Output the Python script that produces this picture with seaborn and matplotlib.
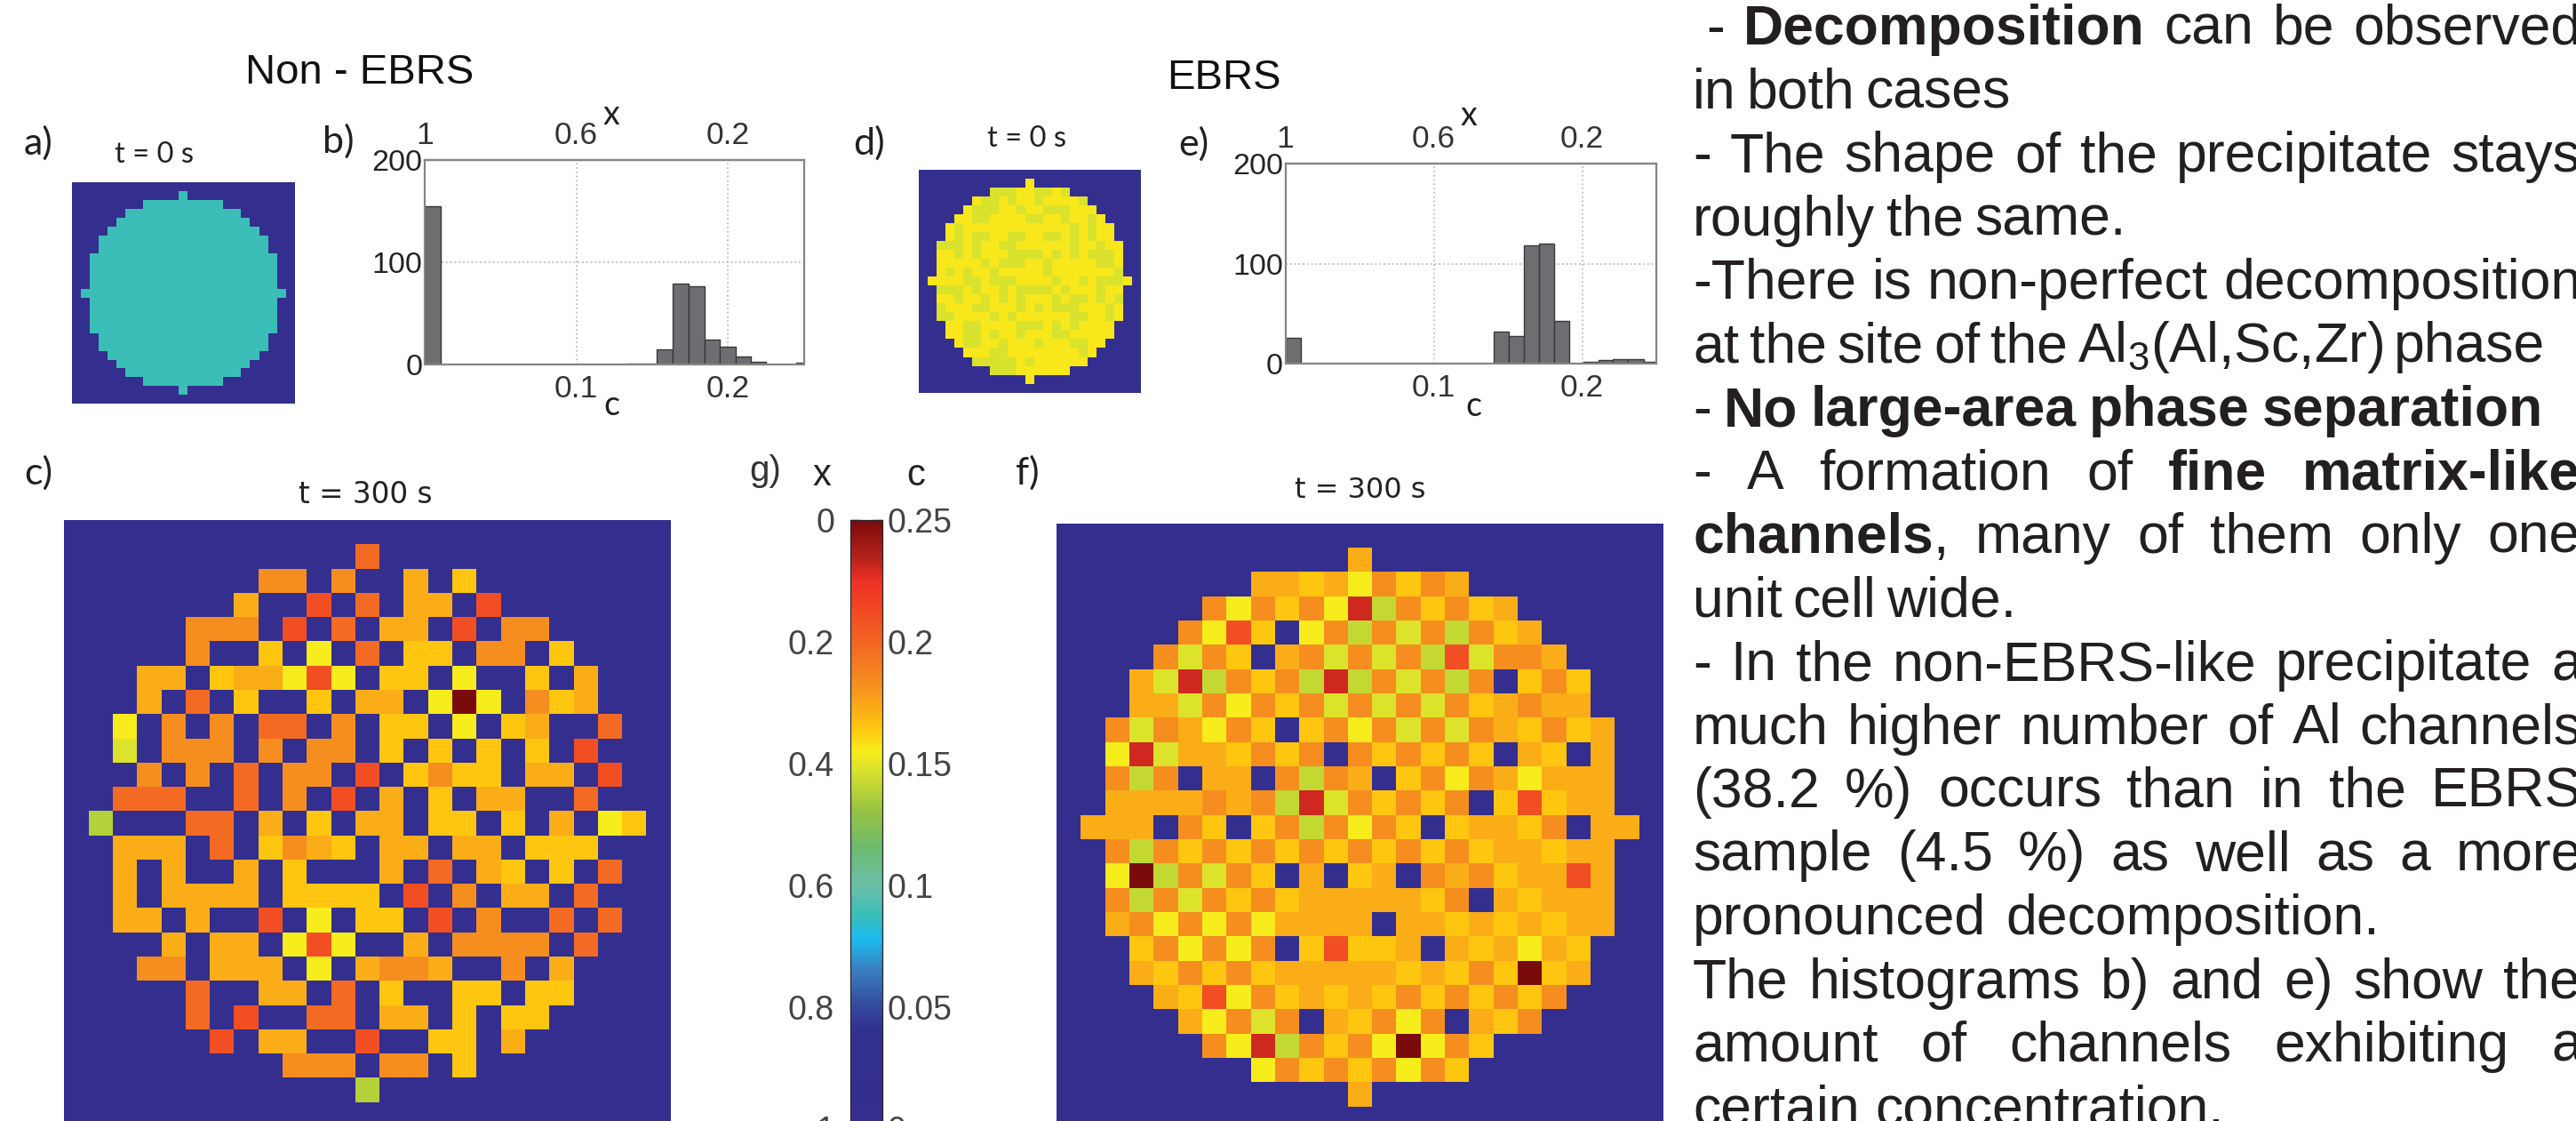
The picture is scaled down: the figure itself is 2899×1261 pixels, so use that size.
import numpy as np
import seaborn as sns
import matplotlib.pyplot as plt
from matplotlib.colors import LinearSegmentedColormap

W, H = 2899, 1261

# concentration codes
CODES = {'.': 0.0, 'L': 0.138, 'H': 0.142, 'Y': 0.148, 'y': 0.155, 'g': 0.165, 'o': 0.172,
         'O': 0.183, 'P': 0.198, 'R': 0.21, 'D': 0.23, 'd': 0.25}

# c) non-EBRS, t = 300 s
MAP_C = [
    "...........P...........",
    ".......OO.O..o.g.......",
    "......o..R.P.oo.R......",
    "....OOO.R.P.oo.R.OO....",
    "....O..g.y.P.gg.OO.g...",
    "..oo.gooyRy.gg.y..g.o..",
    "..o.P.g..g.oo.ydy.Ogo..",
    ".y.O.O.PP.O.gg.y.go..P.",
    ".Y.OOO.O.OO.g.g.g.g.R..",
    "..O.O.P.OO.R.gOgg.oo.R.",
    ".PPP..P.O.R.o.g.oo..P..",
    "L...PP.o.g.oo.gg.g.o.yg",
    ".ooo.P.gOog.oo.oo.ggg..",
    ".o.o..o.g...o.P.og.g.P.",
    ".o.oooo.gggg.R.O.oo.P..",
    ".oo.o..R.y.gg.R.O..P.P.",
    "...o.oo.yRy..o.OOOO.P..",
    "..OO.ooo.y.oOOo..O.o...",
    "....P..oo.P.g..gg.gg...",
    "....P.R..PP.oo.g.gg....",
    ".....R.oo..R..gg.o.....",
    "........OOO.OO.g.......",
    "...........L...........",
]

# f) EBRS, t = 300 s
MAP_F = [
    "...........o...........",
    ".......oogoyOgOo.......",
    ".....OyOgOyDHOgOgo.....",
    "....OyRg.yOHOYOHOgo....",
    "...OYOg.oOYOYOHRYOOo...",
    "..oYDHOgOHDHOYOHO.gOg..",
    "..ooYOyOgOYOYOYOgoOoo..",
    ".OYOoyOg.gOyOYOYOogOgo.",
    ".yDYoogOgO.OgOgOg.og.o.",
    ".OHO.oo.OHOo.gOyOoyooo.",
    ".ooooOoOHDYOgOgO.gRgoo.",
    "ooo.Og.gOHOyOg.googO.oo",
    ".OHOgOgOgOgOgOgOgoogoo.",
    ".ydHOYOg.o.go.OoOgooRo.",
    ".OHOYOgOgooooogO.ogooo.",
    ".oOyOyOyoooo.oogogogoo.",
    "..gOyOyO.gRggo.ogoyog..",
    "..ogOgOgooooogogOgdgo..",
    "...ogRyOgogogOgOgOgO...",
    "....oyOYO.ogOyO.ogO....",
    ".....OyDHOgOydyOg......",
    ".......yOgOgOyOg.......",
    "...........o...........",
]

# a) and d) precipitate outline at t = 0 s, first and last column per row
DISK_START = [11, 7, 5, 4, 3, 2, 2, 1, 1, 1, 1, 0, 1, 1, 1, 1, 2, 2, 3, 4, 5, 7, 11]
DISK_END = [11, 15, 17, 18, 19, 20, 20, 21, 21, 21, 21, 22, 21, 21, 21, 21, 20, 20, 19, 18, 17, 15, 11]
C_START_A = 0.088
C_START_D = 0.156
C_START_D_LOW = 0.147

# d) cells in the slightly greener yellow, per row
D_LOW_COLS = [
    [], [7, 8, 9, 12, 13, 15], [6, 7, 9, 12, 17], [5, 6, 7, 10, 13, 14, 15],
    [5, 6, 11, 12, 15, 18], [3, 16, 18], [3, 5, 6, 9, 10, 13, 14, 16, 18],
    [1, 2, 3, 5, 8, 9, 16, 19], [3, 5, 9, 10, 11, 12, 14, 16, 18, 19, 20],
    [6, 8, 9, 10, 13, 19, 20], [2, 4, 7, 13, 21],
    [4, 5, 7, 8, 9, 14, 17, 19, 20, 21],
    [1, 2, 3, 5, 8, 10, 11, 12, 13, 15, 19],
    [3, 6, 8, 10, 14, 16, 17, 19, 21], [1, 5, 6, 10, 12, 14, 15, 16, 20],
    [1, 2, 7, 9, 16, 17, 20], [4, 5, 10, 11, 12, 14, 16], [4, 5, 7, 10, 14, 15],
    [4, 5, 8, 12, 16, 17], [7, 8, 17], [5, 6, 7, 8, 9, 11], [7, 8, 9], [],
]

# histograms b) and e)
HIST_B_EDGES = [0, .0105, .1333, .1431, .1532, .1637, .1742, .1846, .1948, .2049, .2150, .2251, .2450, .25]
HIST_B_COUNTS = [155, 0, 1, 1, 15, 79.5, 77, 24.4, 17.7, 8, 2.6, 0, 1.5]
HIST_E_EDGES = [0, .0104, .1401, .1507, .1610, .1708, .1809, .1911, .2011, .2108, .2208, .2311, .2415, .25]
HIST_E_COUNTS = [25.7, 0, 32, 27.8, 118.6, 120, 43, 0, 2.4, 3.6, 4.4, 4.4, 2.4]
HIST_X_TOP = ['1', '0.6', '0.2']
HIST_X_BOTTOM = ['0.1', '0.2']
HIST_Y = [0, 100, 200]

# colour scale g)
CBAR_C = [0, 0.05, 0.1, 0.15, 0.2, 0.25]
CBAR_C_LABELS = ['0', '0.05', '0.1', '0.15', '0.2', '0.25']
CBAR_X = [0, 0.2, 0.4, 0.6, 0.8, 1]
CBAR_X_LABELS = ['0', '0.2', '0.4', '0.6', '0.8', '1']
STOPS_C = [0, .04, .05, .065, .078, .088, .10, .115, .13, .148, .155, .165, .172, .183, .198, .21, .225, .235, .25]
STOPS_COLOR = ['#342E8E', '#322F8F', '#34499F', '#3A7EC0', '#1CBBEE', '#3BBEB8', '#6BBFA8', '#6CBB70',
               '#95C245', '#DCE32B', '#F7EC1C', '#FFC60F', '#FBAE17', '#F68E1F', '#F36A22', '#F15023',
               '#EE3124', '#B4211B', '#7B0A0B']

# right hand text: words (** = bold), left and right end of the line in pixels
TEXT_LINES = [
    ("- **Decomposition** can be observed", 1920, 2906),
    ("in both cases", 1905, 2263),
    ("- The shape of the precipitate stays", 1905, 2904),
    ("roughly the same.", 1905, 2393),
    ("-There is non-perfect decomposition", 1905, 2906),
    ("at the site of the Al$_{3}$(Al,Sc,Zr) phase", 1905, 2864),
    ("- **No** **large-area** **phase** **separation**", 1905, 2862),
    ("- A formation of **fine** **matrix-like**", 1905, 2904),
    ("**channels**, many of them only one", 1905, 2904),
    ("unit cell wide.", 1905, 2269),
    ("- In the non-EBRS-like precipitate a", 1905, 2906),
    ("much higher number of Al channels", 1905, 2906),
    ("(38.2 %) occurs than in the EBRS", 1905, 2906),
    ("sample (4.5 %) as well as a more", 1905, 2906),
    ("pronounced decomposition.", 1905, 2678),
    ("The histograms b) and e) show the", 1905, 2904),
    ("amount of channels exhibiting a", 1905, 2906),
    ("certain concentration.", 1905, 2503),
]

HELV = 'Liberation Sans'
SOFT = 'Lato'


def make_axes(fig, x0, y0, x1, y1):
    return fig.add_axes([x0 / W, 1 - y1 / H, (x1 - x0) / W, (y1 - y0) / H])


def put(fig, x, y, s, size, family=HELV, ha='left', color='#231F20', **kw):
    return fig.text(x / W, 1 - y / H, s, fontsize=size, family=family, ha=ha, va='baseline', color=color, **kw)


def pad_grid(cells):
    grid = np.zeros((25, 25))
    grid[1:24, 1:24] = cells
    return grid


def decode(rows):
    return pad_grid(np.array([[CODES[ch] for ch in row] for row in rows]))


def start_a():
    cells = np.zeros((23, 23))
    for r in range(23):
        cells[r, DISK_START[r]:DISK_END[r] + 1] = C_START_A
    return pad_grid(cells)


def start_d():
    cells = np.zeros((23, 23))
    for r in range(23):
        cells[r, DISK_START[r]:DISK_END[r] + 1] = C_START_D
        for col in D_LOW_COLS[r]:
            cells[r, col] = C_START_D_LOW
    return pad_grid(cells)


def draw_map(fig, box, grid, cmap, **kw):
    ax = make_axes(fig, *box)
    sns.heatmap(grid, ax=ax, cmap=cmap, vmin=0, vmax=0.25, xticklabels=False, yticklabels=False,
                rasterized=True, **({'cbar': False} | kw))
    return ax


def draw_hist(fig, box, edges, counts):
    ax = make_axes(fig, *box)
    mids = [(a + b) / 2 for a, b in zip(edges[:-1], edges[1:])]
    sns.histplot(x=mids, weights=counts, bins=edges, ax=ax,
                 color='#6D6E71', edgecolor='#3A3A3A', linewidth=1, alpha=1)
    ax.set_xlim(0, 0.25)
    ax.set_ylim(0, 200)
    ax.set_xlabel('')
    ax.set_ylabel('')
    ax.set_xticks([0.1, 0.2], labels=HIST_X_BOTTOM)
    ax.set_yticks(HIST_Y, labels=[str(v) for v in HIST_Y])
    ax.grid(True, color='#BDBDBD', linestyle=':', linewidth=1.3)
    ax.set_axisbelow(True)
    ax.tick_params(axis='x', length=0, pad=8, labelsize=25.5, labelcolor='#333333')
    ax.tick_params(axis='y', length=0, pad=2, labelsize=24.5, labelcolor='#222222')
    for spine in ax.spines.values():
        spine.set_visible(True)
        spine.set_color('#858585')
        spine.set_linewidth(1.6)
    top = ax.secondary_xaxis('top')
    top.set_xticks([0, 0.1, 0.2], labels=HIST_X_TOP)
    top.tick_params(length=0, pad=8, labelsize=25.5, labelcolor='#333333')
    top.spines['top'].set_color('#858585')
    top.spines['top'].set_linewidth(1.6)
    return ax


def draw_cbar(cax):
    cax.set_yticks(CBAR_C, labels=CBAR_C_LABELS)
    cax.tick_params(axis='y', direction='in', length=8, width=1, color='black', pad=4,
                    labelsize=27, labelcolor='#444444', right=True, labelright=True, left=False)
    cax.spines['outline'].set_linewidth(0.9)
    left = cax.secondary_yaxis('left', functions=(lambda c: 1 - c / 0.25, lambda x: 0.25 * (1 - x)))
    left.set_yticks(CBAR_X, labels=CBAR_X_LABELS)
    left.tick_params(direction='in', length=8, width=1, color='black', pad=13, labelsize=27, labelcolor='#444444')
    left.spines['left'].set_visible(False)


def draw_text(fig):
    renderer = fig.canvas.get_renderer()
    for n, (line, x0, x1) in enumerate(TEXT_LINES):
        y = 50 + 71.5 * n
        words = []
        for word in line.split(' '):
            bold = word.startswith('**')
            tail = ',' if word.endswith('**,') else ''
            word = word.replace('**', '')
            if tail:
                word = word[:-1]
            t = put(fig, 0, y, word, 45, weight='bold' if bold else 'normal')
            comma = put(fig, 0, y, tail, 45) if tail else None
            width = t.get_window_extent(renderer).width
            words.append((t, comma, width))
        extra = sum(c.get_window_extent(renderer).width for _, c, _ in words if c)
        gap = (x1 - x0 - sum(w for _, _, w in words) - extra) / max(len(words) - 1, 1)
        x = x0
        for t, comma, w in words:
            t.set_x(x / W)
            x += w
            if comma:
                comma.set_x(x / W)
                x += comma.get_window_extent(renderer).width
            x += gap


def main():
    sns.set_theme(style='white')
    plt.rcParams['font.family'] = [HELV, 'DejaVu Sans']
    plt.rcParams['mathtext.default'] = 'regular'
    cmap = LinearSegmentedColormap.from_list(
        'precip', [(c / 0.25, col) for c, col in zip(STOPS_C, STOPS_COLOR)], N=512)

    fig = plt.figure(figsize=(W / 100, H / 100), dpi=100, facecolor='white')

    draw_map(fig, (81, 205.3, 331.6, 454.3), start_a(), cmap)
    draw_map(fig, (1034, 190.7, 1283.5, 441.7), start_d(), cmap)
    cax = make_axes(fig, 957, 585.4, 993, 1269.4)
    draw_map(fig, (72.4, 585, 754.7, 1267), decode(MAP_C), cmap, cbar=True, cbar_ax=cax)
    draw_map(fig, (1189, 588.7, 1872, 1272), decode(MAP_F), cmap)
    draw_cbar(cax)

    draw_hist(fig, (478, 180.3, 904.5, 410), HIST_B_EDGES, HIST_B_COUNTS)
    draw_hist(fig, (1446.6, 184, 1864, 409.3), HIST_E_EDGES, HIST_E_COUNTS)

    put(fig, 276, 94, 'Non - EBRS', 34, color='#111111')
    put(fig, 1313, 100, 'EBRS', 34, color='#111111')

    for x, y, s in [(27, 174, 'a)'), (363, 172, 'b)'), (27, 545, 'c)'), (960, 174, 'd)'),
                    (1326, 175, 'e)'), (1143, 545, 'f)')]:
        put(fig, x, y, s, 31, family=SOFT)
    put(fig, 843, 541, 'g)', 29, color='#333333')
    put(fig, 915, 546, 'x', 30, color='#222222')
    put(fig, 1020, 546, 'c', 30, color='#222222')

    put(fig, 129, 183, 't = 0 s', 23.5, family=SOFT)
    put(fig, 1111, 165, 't = 0 s', 23.5, family=SOFT)
    put(fig, 336, 566, 't = 300 s', 23.5, family='DejaVu Sans', color='#222222')
    put(fig, 1457, 560, 't = 300 s', 23, family='DejaVu Sans', color='#222222')

    put(fig, 679, 140, 'x', 27, family=SOFT)
    put(fig, 679, 467, 'c', 27, family=SOFT)
    put(fig, 1644, 141, 'x', 27, family=SOFT)
    put(fig, 1649, 468, 'c', 27, family=SOFT)

    draw_text(fig)
    fig.savefig('out.png', dpi=100)


if __name__ == "__main__":
    main()
